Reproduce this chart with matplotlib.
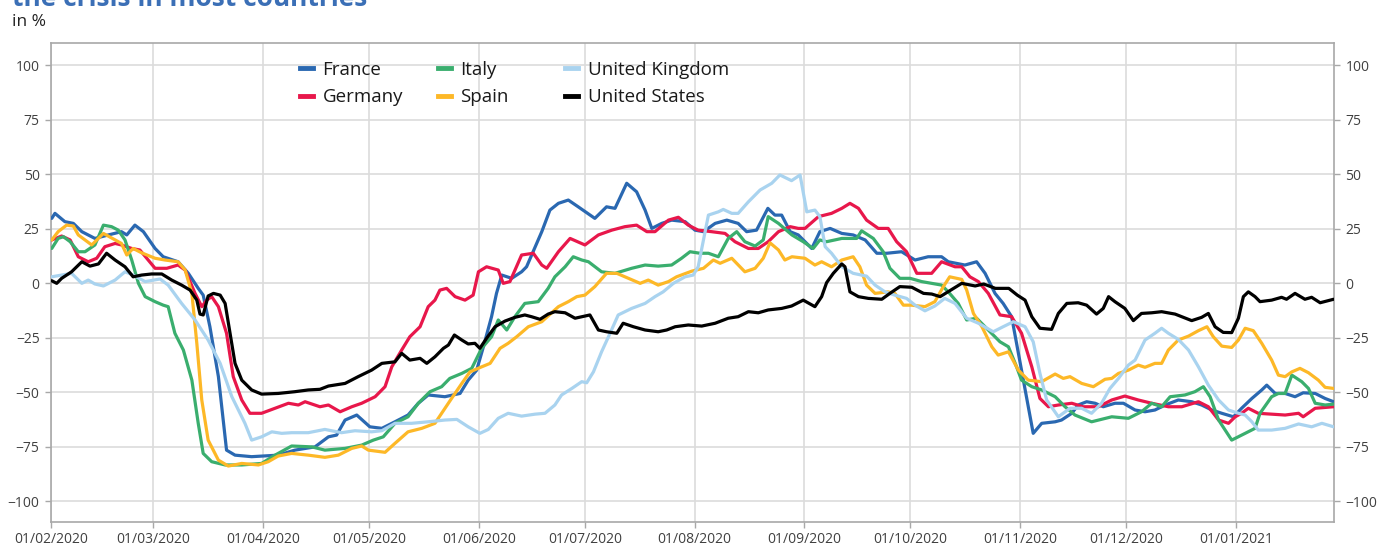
import numpy as np
import matplotlib
matplotlib.use("Agg")
import matplotlib.pyplot as plt
import matplotlib.dates as mdates
from matplotlib.lines import Line2D
from datetime import datetime

# ---------------- data (days since 01/02/2020, value in %) ----------------
START = datetime(2020, 2, 1)

france_days = [0.3, 1.2, 4, 6.4, 8.8, 12.5, 16.3, 20, 21.5, 23.8,
               26.2, 29.5, 31.8, 36, 38.9, 41.7, 43.1, 45, 47.4, 49.7,
               52.1, 56.8, 64.3, 69, 74.7, 78.5, 80.8, 83.2, 86.5, 90.2,
               93.6, 97.3, 101, 103.9, 106.7, 111.4, 115.7, 118, 120.4, 122.3,
               124.6, 126, 127.5, 130.3, 133.1, 134.5, 138.8, 141.1, 143.5, 146.3,
               149.1, 153.8, 157.1, 159.5, 162.8, 165.6, 168, 169.9, 172.7, 175.5,
               179.3, 182.1, 184.5, 187.8, 191.1, 194.3, 196.7, 199.5, 202.7, 204.7,
               206.6, 209, 211.3, 213.2, 215.1, 217.4, 220.3, 223.6, 226.8, 230.2,
               233.5, 236.3, 240.5, 244.3, 248, 251.8, 253.7, 258.4, 261.7, 264.1,
               266.9, 269.2, 271.6, 277.7, 280.1, 283.9, 285.7, 288.6, 290.4, 292.8,
               295.2, 297.5, 300.8, 303.2, 306.5, 309.3, 312.1, 315, 318.7, 322.5,
               325.3, 328.2, 331, 334.3, 336.6, 339.5, 342.3, 343.7, 346.1, 348.9,
               351.7, 354, 357.4, 360.2, 362.6]
france = [29.8, 32.1, 28.3, 27.5, 23.7, 20.6, 22.2, 23.7, 22.2, 26.7,
          23.7, 16, 12.2, 9.9, 4.6, -2.3, -5.4, -19.9, -42.8, -76.5,
          -78.8, -79.5, -78.8, -76.5, -75, -70.4, -69.6, -62.7, -60.4, -65.8,
          -66.5, -63.5, -60.4, -55, -51.2, -52, -50.5, -44.4, -39.8, -29.1,
          -15.3, -4.6, 3.8, 2.3, 5.3, 7.6, 23.7, 33.6, 36.7, 38.2,
          35.1, 29.8, 35.1, 34.4, 45.9, 42, 33.6, 25.2, 27.5, 29,
          28.3, 24.4, 23.7, 27.5, 29, 27.5, 23.7, 24.4, 34.4, 31.3,
          31.3, 23.7, 22.2, 19.1, 16, 23.7, 25.2, 22.9, 22.2, 19.9,
          13.8, 13.8, 14.5, 10.7, 12.2, 12.2, 9.9, 8.4, 9.9, 4.6,
          -4.6, -9.2, -15.3, -68.8, -64.2, -63.5, -62.7, -59.6, -55.8, -54.3,
          -55, -56.6, -55, -55, -58.1, -58.9, -58.1, -55.8, -53.5, -54.3,
          -55.8, -58.1, -59.6, -61.2, -57.3, -52.8, -48.9, -46.7, -50.5, -50.5,
          -52, -50.2, -50.5, -52.8, -54.3]

germany_days = [0.3, 3.1, 5.5, 7.8, 10.6, 13, 15.3, 18.2, 20, 22.9,
                25.2, 29.5, 32.8, 36, 38, 40.8, 42.7, 44.1, 45.5, 47.4,
                49.7, 51.6, 54, 56.3, 59.6, 63.4, 67.2, 70, 71.9, 76.1,
                78.5, 81.8, 85.1, 87.9, 91.7, 94.5, 96.4, 99.2, 101.5, 104.4,
                106.7, 108.6, 110, 111.9, 114.3, 117.1, 119.4, 120.9, 123.2, 126.5,
                127.9, 129.8, 133.1, 136.4, 138.8, 140.2, 143.5, 146.8, 151, 154.8,
                158.6, 162.3, 165.6, 168.5, 170.8, 174.6, 177.4, 180.2, 183, 186.8,
                190.6, 193.4, 197.2, 200, 202.8, 205.7, 209, 211.3, 213.2, 217,
                220.7, 223.6, 225.9, 228.3, 230.6, 233.9, 236.7, 239.1, 241.9, 244.8,
                249, 251.8, 255.6, 257.5, 259.8, 262.2, 265, 268.3, 271.6, 274.4,
                277.3, 279.6, 282, 284.8, 288.6, 291.8, 296.1, 299.9, 303.6, 307.4,
                311.2, 315.9, 319.7, 324.4, 327.2, 330.1, 332.9, 334.8, 336.6, 338.5,
                341.3, 345.1, 348.9, 352.7, 354, 357.4, 362.6]
germany = [19.9, 21.7, 19.9, 12.2, 9.9, 11.5, 16.8, 18.3, 17.6, 16,
           15.3, 6.9, 6.9, 8.4, 6.1, -4.6, -10.7, -7.7, -6.1, -10.7,
           -22.9, -42.8, -53.5, -59.6, -59.6, -57.3, -55, -55.8, -54.3, -56.6,
           -55.8, -58.9, -56.6, -55, -52, -47.4, -38.3, -30.6, -24.5, -19.9,
           -10.7, -7.7, -3.1, -2.3, -6.1, -7.7, -5.4, 5.3, 7.6, 6.1,
           0, 0.8, 13, 13.8, 8.4, 6.9, 14.5, 20.6, 17.6, 22.2,
           24.4, 26, 26.7, 23.7, 23.7, 29, 30.3, 26.7, 24.4, 23.7,
           22.9, 19.1, 16, 16, 19.1, 23.7, 26, 25.2, 25.2, 30.6,
           32.1, 34.4, 36.7, 34.4, 29, 25.2, 25.2, 19.1, 14.5, 4.6,
           4.6, 9.9, 7.6, 7.6, 3, 0.8, -4.6, -14.5, -15.3, -22.9,
           -38.3, -52.8, -56.6, -55.8, -55, -56.6, -56.6, -53.5, -51.7, -53.5,
           -55, -56.6, -56.6, -54.3, -56.6, -62.7, -64.2, -61.2, -59.6, -57.3,
           -59.6, -60, -60.4, -59.6, -61.2, -57.3, -56.6]

italy_days = [0.3, 2.1, 3.6, 5.5, 7.8, 9.7, 12.5, 14.9, 17.2, 19.1,
              21, 22.9, 24.8, 26.7, 29.5, 31.8, 33.2, 35.1, 37.5, 39.9,
              41.7, 43.1, 45.5, 49.3, 54, 59.6, 63.4, 68.1, 73.8, 77.5,
              83.2, 87.9, 91.2, 94, 97.3, 101, 103.9, 107.2, 110.5, 112.8,
              116.2, 119, 121.8, 124.6, 126.5, 128.9, 131.2, 134, 137.8, 140.6,
              142.5, 145.4, 147.7, 150.1, 152, 155.7, 159.5, 164.2, 168, 171.7,
              175.5, 178.3, 180.7, 183.5, 185.9, 188.7, 191.5, 193.9, 196.2, 199.1,
              201.4, 202.8, 205.7, 209.5, 212.7, 215.5, 217.4, 219.3, 223.6, 227.8,
              229.2, 232.5, 235.3, 237.2, 240, 242.9, 246.2, 251.8, 253.7, 256.5,
              258.9, 261.7, 265, 268.3, 270.7, 273, 274.4, 277.3, 280.1, 283.9,
              286.7, 289.5, 294.2, 299.9, 304.6, 308.3, 311.2, 314, 316.4, 320.6,
              323.4, 325.8, 327.7, 330.1, 333.8, 337.6, 340.4, 341.8, 345.1, 347,
              348.9, 350.8, 353.6, 355.5, 357.4, 360.2, 362.6]
italy = [16, 20.6, 21.4, 19.1, 14.5, 14.5, 17.6, 26.7, 26, 24.4,
         19.9, 10.7, 0, -6.1, -8.4, -10, -10.7, -22.9, -30.6, -44.4,
         -64.2, -78, -81.8, -83.3, -83.3, -82.6, -78.8, -74.6, -75, -76.5,
         -75.7, -74.2, -71.9, -70.4, -64.2, -61.2, -55, -49.7, -47.4, -43.6,
         -41.3, -39, -29.8, -24.5, -16.8, -21.4, -15.3, -9.2, -8.4, -2.3,
         3, 7.6, 12.2, 10.7, 9.9, 5.3, 4.6, 6.9, 8.4, 7.9,
         8.4, 11.5, 14.5, 13.8, 13.8, 12.2, 20.6, 23.7, 19.1, 17.1,
         19.9, 30.6, 27.5, 22.2, 19.1, 16, 19.9, 19.1, 20.6, 20.6,
         24.1, 20.6, 14.5, 6.9, 2.3, 2.3, 0.8, -0.8, -3.9, -9.2,
         -16.8, -16, -21.4, -26.8, -29.1, -38.3, -44.4, -47.4, -48.9, -52,
         -56.6, -60.4, -63.5, -61.2, -61.9, -58.9, -55, -56.6, -52, -51.2,
         -49.7, -47.4, -52, -62.7, -71.9, -68.8, -66.5, -59.6, -52, -50.5,
         -50.5, -42.1, -45.1, -48.2, -55, -55.8, -55.4]

spain_days = [0.3, 2.1, 4.5, 6.4, 7.8, 11.6, 14.9, 18.2, 20, 21.5,
              23.3, 25.7, 29.5, 32.3, 36, 38, 39.9, 41.3, 42.7, 44.5,
              47.4, 50.2, 54, 58.7, 61.5, 64.3, 68.1, 72.8, 77.5, 81.3,
              85.1, 87.9, 89.8, 94.5, 97.3, 101, 104.9, 108.6, 110.5, 113.3,
              116.2, 118.5, 121.8, 124.2, 127, 129.3, 131.7, 135, 138.8, 143.5,
              146.3, 148.7, 151, 153.8, 157.1, 160, 163.3, 166.6, 168.9, 171.7,
              174.6, 176.9, 181.2, 184.5, 187.3, 189.2, 192.5, 196.2, 199.1, 201.4,
              203.3, 205.7, 207.5, 209.5, 213.2, 216, 217.9, 220.7, 223.6, 226.8,
              228.7, 230.6, 233, 236.7, 238.6, 241, 243.3, 247.1, 249.9, 252.3,
              254.1, 257.5, 258.9, 260.8, 263.2, 266, 267.8, 270.7, 273.5, 276.3,
              280.1, 283.9, 286.2, 288.1, 291.4, 294.7, 298, 299.9, 301.8, 304.6,
              307.4, 309.3, 312.1, 314, 315.9, 318.7, 321.6, 324.4, 326.8, 328.6,
              331, 333.8, 335.7, 337.6, 339.9, 342.3, 345.1, 347, 348.9, 350.8,
              353.1, 355.5, 358.3, 360.2, 362.6]
spain = [19.9, 23.7, 26.7, 26.3, 22.2, 17.6, 22.9, 19.9, 18.3, 13,
         16, 14, 11.5, 10.7, 9.9, 6.1, -4.6, -27.5, -53.5, -71.9,
         -81.1, -83.8, -82.6, -83.3, -81.8, -79.2, -78, -78.8, -79.8, -78.8,
         -75.7, -74.6, -76.5, -77.5, -73.4, -68.1, -66.5, -64.2, -59.6, -52.8,
         -45.9, -40.6, -38.3, -36.7, -29.8, -27.5, -24.5, -19.9, -17.6, -10.7,
         -8.4, -6.1, -5.4, -1.5, 4.6, 4.6, 2.3, 0, 1.5, -0.8,
         0.8, 3, 5.6, 6.9, 10.7, 9.2, 11.5, 5.3, 6.9, 11.5,
         18.6, 15.3, 10.7, 12.2, 11.5, 8.4, 9.9, 7.6, 10.7, 12.2,
         7.6, -0.8, -4.6, -3.9, -4.6, -10, -10, -10.7, -8.4, -1.5,
         3, 1.8, -3.1, -13.8, -19.9, -29.1, -32.9, -31.4, -39.8, -44.4,
         -45.1, -41.6, -43.6, -42.8, -45.9, -47.4, -44, -43.6, -41.3, -39.8,
         -37.5, -38.5, -36.7, -36.7, -30.6, -26, -24.2, -21.7, -19.9, -24.5,
         -28.8, -29.4, -26, -20.6, -21.7, -27.5, -35.2, -42.1, -42.8, -40.6,
         -39, -41, -44.4, -47.7, -48.2]

uk_days = [0.3, 3.1, 5.9, 8.8, 10.6, 12.5, 14.9, 18.2, 21, 23.3,
           26.7, 30.9, 33.2, 37, 40.8, 44.5, 47.9, 51.2, 54.9, 56.8,
           59.6, 62.5, 65.3, 68.1, 72.8, 77.5, 82.2, 86, 90.7, 93.6,
           97.3, 102, 106.7, 111.4, 114.8, 118, 121.3, 123.7, 126.5, 129.3,
           133.1, 136.9, 139.7, 142.5, 144.4, 147.3, 150.1, 151.5, 153.4, 155.7,
           158.1, 160.4, 164.2, 168, 170.8, 173.1, 176, 179.3, 181.6, 183,
           184.5, 185.9, 188.7, 190.1, 192.5, 194.3, 197.2, 200.5, 203.8, 206.1,
           209.4, 211.8, 213.7, 216, 217.4, 218.9, 220.7, 223.6, 226.8, 230.6,
           233, 235.8, 238.6, 241.9, 244.3, 247.1, 249.9, 252.7, 255.6, 258.9,
           262.2, 266.4, 269.2, 272.1, 275.4, 277.7, 279.6, 281.5, 284.8, 288.1,
           291.4, 294.2, 297, 299.4, 301.8, 304.6, 306.5, 309.3, 312.1, 314,
           315.9, 318.7, 321.6, 324.4, 327.2, 330.1, 332.9, 335.7, 337.6, 339.5,
           341.3, 345.1, 348.9, 352.7, 356.4, 359.3, 362.6]
uk = [3, 3.8, 4.6, 0, 1.5, -0.3, -1.2, 1.5, 5.3, 3.8,
      0.8, 2, -0.8, -9.2, -16.8, -26, -36.7, -52, -64.2, -71.9,
      -70.4, -68.1, -68.8, -68.5, -68.5, -67, -68.5, -67.6, -68.1, -67.6,
      -64.2, -64.2, -63.5, -62.7, -62.4, -65.8, -68.8, -67, -61.9, -59.6,
      -60.9, -60, -59.6, -55.8, -51.2, -48.2, -45.1, -45.6, -40.6, -31.4,
      -22.9, -14.5, -11.5, -9.2, -6.1, -3.9, 0, 3, 3.8, 7.6,
      19.9, 31.3, 32.8, 33.9, 32.1, 32.1, 37.4, 42.8, 45.9, 49.7,
      47.1, 49.7, 32.8, 33.6, 30.6, 16.8, 13.8, 7.6, 4.6, 3.3,
      -0.8, -3.9, -5.4, -6.9, -10, -12.6, -10.4, -6.9, -9.2, -16,
      -18.3, -22.2, -19.9, -17.6, -19.9, -26.8, -41.3, -53.5, -61.2, -57.3,
      -57.3, -59.6, -55, -48.2, -43.6, -37.5, -35.2, -26, -22.9, -20.6,
      -22.9, -25.7, -30.6, -38.3, -46.7, -53.5, -58.1, -59.6, -60.4, -63.5,
      -67.3, -67.3, -66.5, -64.5, -65.8, -64.2, -65.8]

us_days = [0.3, 1.7, 3.1, 5.9, 8.8, 11.1, 13.5, 15.8, 18.2, 21,
           23.3, 25.7, 28.5, 31.4, 34.2, 37, 39.4, 41.3, 42.2, 43.1,
           44.5, 46, 47.9, 49.3, 50.7, 52.1, 54, 56.8, 59.6, 64.3,
           69, 72.8, 76.1, 78.5, 83.2, 86.9, 90.7, 93.6, 97.3, 99.2,
           101.5, 104.4, 106.3, 108.6, 111, 112.4, 114.1, 116.2, 118, 119.9,
           121.3, 123.2, 125.6, 128.4, 131.2, 134, 135.9, 138.3, 140.6, 142.5,
           145.4, 148.2, 152.4, 154.8, 157.1, 160, 161.8, 164.7, 168, 171.7,
           174.1, 176.5, 180.2, 184, 187.8, 191.5, 194.3, 197.2, 200, 202.8,
           206.6, 209.4, 212.7, 216, 217.9, 219.3, 221.2, 223.6, 224.5, 225.9,
           228.3, 231.1, 234.9, 237.2, 240, 243.4, 246.7, 249, 251.4, 254.7,
           257.5, 261.3, 263.7, 267, 270.8, 273.2, 275.4, 277.3, 279.6, 282.9,
           284.8, 287.2, 290.4, 292.8, 295.6, 297.5, 299, 300.8, 303.6, 306,
           308.3, 311.2, 314, 317.8, 322.5, 325.3, 327.2, 329.1, 331.4, 333.8,
           335.7, 337.1, 338.5, 340.4, 341.8, 345.1, 347.9, 349.3, 351.7, 354.5,
           356.4, 358.8, 362.6]
us = [1.2, 0, 2.3, 5.3, 9.9, 7.9, 8.9, 13.8, 10.7, 7.6,
      3, 3.8, 4.3, 4.3, 1.5, -0.8, -3.1, -7.7, -14.1, -14.5,
      -5.8, -4.6, -5.4, -9.2, -22.9, -36.7, -44.4, -48.9, -50.8, -50.5,
      -49.7, -48.9, -48.6, -47.1, -45.9, -42.8, -39.8, -36.7, -36, -32.1,
      -35.2, -34.4, -36.7, -33.7, -29.8, -28.3, -23.7, -26, -27.8, -27.5,
      -29.8, -25.2, -19.9, -17.3, -15.6, -14.5, -15.3, -16.5, -14.1, -13,
      -13.5, -16, -14.5, -21.4, -22.2, -22.9, -18.3, -19.9, -21.4, -22.2,
      -21.4, -19.9, -19.1, -19.6, -18.3, -16, -15.3, -13, -13.5, -12.2,
      -11.5, -10.4, -7.7, -10.7, -6.1, 0.3, 4.6, 8.9, 7.6, -3.9,
      -6.1, -6.9, -7.3, -4.6, -1.5, -1.8, -4.6, -4.9, -6.1, -2.8,
      0, -1.2, -0.3, -2.3, -2.3, -5.4, -7.7, -15.3, -20.6, -21.1,
      -13.8, -9.2, -8.9, -10, -14.1, -11.5, -6.1, -8.4, -11.5, -17.1,
      -13.8, -13.5, -13, -14.1, -17.1, -15.6, -13.8, -19.9, -22.5, -22.6,
      -16, -6.1, -3.9, -6.1, -8.4, -7.7, -6.4, -7.3, -4.6, -7.3,
      -6.4, -8.9, -7.3]

series_names = ["France", "Germany", "Italy", "Spain", "United Kingdom", "United States"]
series_days = [france_days, germany_days, italy_days, spain_days, uk_days, us_days]
series_vals = [france, germany, italy, spain, uk, us]
colors = ["#2a68b1", "#e8174b", "#3aae6e", "#fdb827", "#a9d3ef", "#000000"]

y_ticks = [-100, -75, -50, -25, 0, 25, 50, 75, 100]
x_tick_dates = [datetime(2020, m, 1) for m in range(2, 13)] + [datetime(2021, 1, 1)]

# ---------------- figure ----------------
plt.rcParams['font.family'] = ['Open Sans', 'DejaVu Sans']
W, H = 1388, 545
fig = plt.figure(figsize=(W / 100, H / 100), dpi=100)
L, R, B, T = 50.7, 1334.3, 522.3, 43.3
ax = fig.add_axes([L / W, 1 - B / H, (R - L) / W, (B - T) / H])

base = mdates.date2num(START)
lines = {}
for name, d, v, c in zip(series_names, series_days, series_vals, colors):
    assert len(d) == len(v), name
    ln, = ax.plot(base + np.asarray(d, float), v, color=c, lw=2.3,
                  solid_joinstyle='round', solid_capstyle='round', zorder=3)
    lines[name] = ln

ax.set_xlim(base, base + 362.8)
ax.set_ylim(-109.6, 110.1)
ax.set_yticks(y_ticks)
ax.set_xticks(mdates.date2num(x_tick_dates))
ax.xaxis.set_major_formatter(mdates.DateFormatter('%d/%m/%Y'))

ax.grid(True, color='#dcdcdc', lw=1.2, zorder=0)
ax.set_axisbelow(True)
for s in ax.spines.values():
    s.set_color('#a8a8a8')
    s.set_linewidth(1.2)
ax.tick_params(axis='both', which='both', direction='out', length=4, width=1,
               color='#a8a8a8', labelcolor='#404040', labelsize=10)
ax.tick_params(axis='y', left=True, right=True, labelleft=True, labelright=True, pad=4)
ax.tick_params(axis='x', pad=3)

# legend: three columns placed like the original
legend_kw = dict(frameon=False, fontsize=13.5, handlelength=0.7, handletextpad=0.5,
                 labelspacing=0.5, borderpad=0, borderaxespad=0, loc='upper left')
col_x = [300, 438, 565]
groups = [["France", "Germany"], ["Italy", "Spain"], ["United Kingdom", "United States"]]
for i, (gx, grp) in enumerate(zip(col_x, groups)):
    handles = [Line2D([], [], color=lines[n].get_color(), lw=3.5) for n in grp]
    leg = fig.legend(handles, grp, bbox_to_anchor=(gx / W, 1 - 61 / H), **legend_kw)
    for t in leg.get_texts():
        t.set_color('#1a1a1a')

# titles (the headline is cut by the top edge, as in the original)
fig.text(12 / W, 1 - 6.5 / H, "the crisis in most countries", color='#3b6fb6',
         fontsize=19, fontweight='bold', ha='left', va='baseline')
fig.text(12 / W, 1 - 26 / H, "in %", color='#222222', fontsize=12.5,
         ha='left', va='baseline')

fig.savefig("out.png", dpi=100)
